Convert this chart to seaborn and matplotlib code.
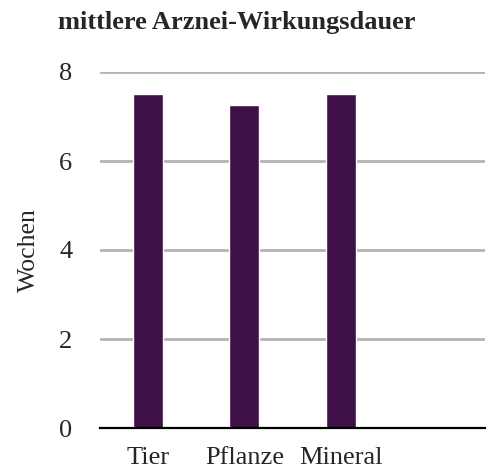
import pandas as pd
import numpy as np
import matplotlib
matplotlib.use('Agg')
import matplotlib.pyplot as plt
import seaborn as sns

# Daten
kategorien = ['Tier', 'Pflanze', 'Mineral', '']
wochen = [7.5, 7.25, 7.5, np.nan]

df = pd.DataFrame({'Kategorie': kategorien, 'Wochen': wochen})

sns.set_style('white')
plt.rcParams['font.family'] = ['Liberation Serif', 'DejaVu Serif']

fig = plt.figure(figsize=(4.87, 4.69), dpi=100)
ax = fig.add_axes([100 / 487, 1 - 428 / 469, 385 / 487, 356 / 469])

sns.barplot(data=df, x='Kategorie', y='Wochen', color='#3f0f48', saturation=1,
            width=0.31, ax=ax, order=kategorien)

ax.set_ylim(0, 8)
ax.set_yticks([0, 2, 4, 6, 8])
ax.yaxis.grid(True, color='#b3b3b3', linewidth=2)
ax.set_axisbelow(True)
for s in ['top', 'right', 'left']:
    ax.spines[s].set_visible(False)
ax.spines['bottom'].set_color('black')
ax.spines['bottom'].set_linewidth(1.6)
ax.spines['bottom'].set_zorder(5)
ax.tick_params(axis='y', length=0, pad=20, labelsize=19)
ax.tick_params(axis='x', length=0, pad=14, labelsize=19)
ax.set_xlabel('')
ax.set_ylabel('Wochen', fontsize=18.5, labelpad=14)

fig.text(58 / 487, 1 - 22 / 469, 'mittlere Arznei-Wirkungsdauer', fontsize=19,
         fontweight='bold', va='center', ha='left')

fig.savefig('out.png', dpi=100)
